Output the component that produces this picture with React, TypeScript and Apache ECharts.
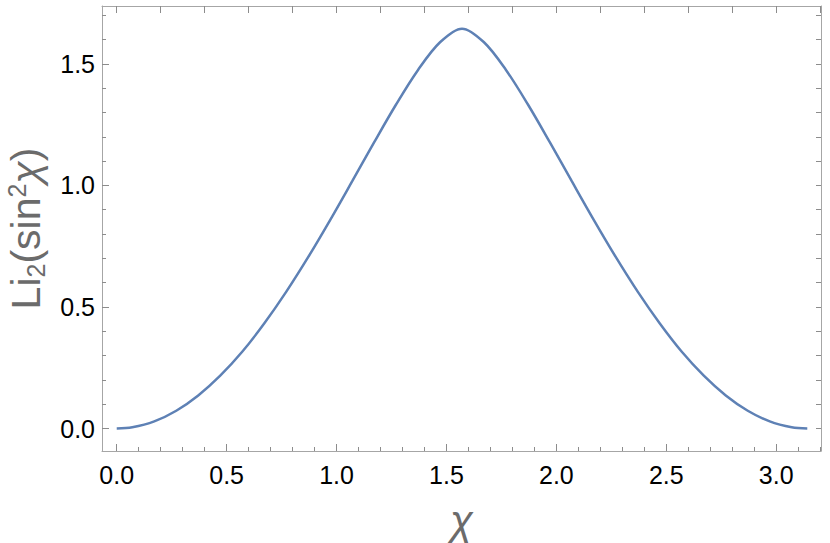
import React, { useEffect, useRef } from "react";
import * as echarts from "echarts";

// chi values (x) and Li2(sin^2 chi) values (y)
const chiValues = [
  0, 0.0708, 0.1708, 0.2708, 0.3708, 0.4708, 0.5708, 0.6708, 0.7708, 0.8708,
  0.9708, 1.0708, 1.1708, 1.2708, 1.3708, 1.4708, 1.5708, 1.6708, 1.7708,
  1.8708, 1.9708, 2.0708, 2.1708, 2.2708, 2.3708, 2.4708, 2.5708, 2.6708,
  2.7708, 2.8708, 2.9708, 3.0708, 3.1416,
];
const liValues = [
  0, 0.005, 0.0291, 0.0729, 0.1359, 0.2174, 0.3156, 0.432, 0.5621, 0.7048,
  0.8574, 1.0163, 1.1769, 1.3328, 1.4749, 1.5888, 1.6449, 1.5888, 1.4749,
  1.3328, 1.1769, 1.0163, 0.8574, 0.7048, 0.5621, 0.432, 0.3156, 0.2174,
  0.1359, 0.0729, 0.0291, 0.005, 0,
];

// tick positions
const xMajorTicks = [0, 0.5, 1.0, 1.5, 2.0, 2.5, 3.0];
const xMinorTicks = [
  0.1, 0.2, 0.3, 0.4, 0.6, 0.7, 0.8, 0.9, 1.1, 1.2, 1.3, 1.4, 1.6, 1.7, 1.8,
  1.9, 2.1, 2.2, 2.3, 2.4, 2.6, 2.7, 2.8, 2.9, 3.1, 3.2,
];
const xTopTicks = [
  0, 0.2, 0.4, 0.6, 0.8, 1.0, 1.2, 1.4, 1.6, 1.8, 2.0, 2.2, 2.4, 2.6, 2.8, 3.0,
  3.2,
];
const yMajorTicks = [0, 0.5, 1.0, 1.5];
const yMinorTicks = [
  0.1, 0.2, 0.3, 0.4, 0.6, 0.7, 0.8, 0.9, 1.1, 1.2, 1.3, 1.4, 1.6, 1.7,
];
const yRightTicks = [
  0, 0.1, 0.2, 0.3, 0.4, 0.5, 0.6, 0.7, 0.8, 0.9, 1.0, 1.1, 1.2, 1.3, 1.4, 1.5,
  1.6, 1.7,
];

const xMin = -0.067;
const xMax = 3.204;
const yMin = -0.0925;
const yMax = 1.738;

const FONT = "'Liberation Sans', Arial, sans-serif";
const FRAME = "#a6a6a6";
const TICK = "#8c8c8c";
const LABEL_GRAY = "#6b6b6b";

export default function App() {
  const ref = useRef<HTMLDivElement>(null);

  useEffect(() => {
    if (!ref.current) return;
    const chart = echarts.init(ref.current, null, { renderer: "svg" });
    const frameLine = { show: true, onZero: false, lineStyle: { color: FRAME, width: 1 } };
    const noLine = { show: false, onZero: false };
    const base = { type: "value" as const, splitLine: { show: false } };

    const option: any = {
      animation: false,
      backgroundColor: "#ffffff",
      grid: {
        left: 102,
        right: 9,
        top: 6,
        bottom: 92,
        containLabel: false,
        outerBoundsMode: "none",
      },
      xAxis: [
        {
          ...base,
          position: "bottom",
          min: xMin,
          max: xMax,
          axisLine: frameLine,
          axisTick: {
            show: true,
            inside: true,
            length: 7,
            customValues: xMajorTicks,
            lineStyle: { color: TICK, width: 1 },
          },
          axisLabel: {
            show: true,
            customValues: xMajorTicks,
            margin: 11,
            fontSize: 25,
            fontFamily: FONT,
            color: "#000",
            formatter: (v: number) => v.toFixed(1),
          },
          name: "χ",
          nameLocation: "middle",
          nameGap: 48,
          nameTextStyle: {
            fontSize: 42,
            lineHeight: 42,
            fontStyle: "italic",
            fontFamily: FONT,
            color: LABEL_GRAY,
          },
        },
        {
          ...base,
          position: "bottom",
          min: xMin,
          max: xMax,
          axisLine: noLine,
          axisTick: {
            show: true,
            inside: true,
            length: 4,
            customValues: xMinorTicks,
            lineStyle: { color: TICK, width: 1 },
          },
          axisLabel: { show: false },
        },
        {
          ...base,
          position: "top",
          min: xMin,
          max: xMax,
          axisLine: frameLine,
          axisTick: {
            show: true,
            inside: true,
            length: 7,
            customValues: xTopTicks,
            lineStyle: { color: TICK, width: 1 },
          },
          axisLabel: { show: false },
        },
      ],
      yAxis: [
        {
          ...base,
          position: "left",
          min: yMin,
          max: yMax,
          axisLine: frameLine,
          axisTick: {
            show: true,
            inside: true,
            length: 7,
            customValues: yMajorTicks,
            lineStyle: { color: TICK, width: 1 },
          },
          axisLabel: {
            show: true,
            customValues: yMajorTicks,
            margin: 7,
            fontSize: 25,
            fontFamily: FONT,
            color: "#000",
            formatter: (v: number) => v.toFixed(1),
          },
          name: "{m|Li}{sub|2}{m|(sin}{sup|2}{it|χ}{m|)}",
          nameLocation: "middle",
          nameGap: 54,
          nameTextStyle: {
            fontSize: 41,
            fontFamily: FONT,
            color: LABEL_GRAY,
            rich: {
              m: { fontSize: 41, lineHeight: 44, fontFamily: FONT, color: LABEL_GRAY },
              it: {
                fontSize: 41,
                lineHeight: 44,
                fontStyle: "italic",
                fontFamily: FONT,
                color: LABEL_GRAY,
              },
              sub: {
                fontSize: 25,
                lineHeight: 30,
                verticalAlign: "bottom",
                fontFamily: FONT,
                color: LABEL_GRAY,
              },
              sup: {
                fontSize: 25,
                lineHeight: 21,
                verticalAlign: "top",
                fontFamily: FONT,
                color: LABEL_GRAY,
              },
            },
          },
        },
        {
          ...base,
          position: "left",
          min: yMin,
          max: yMax,
          axisLine: noLine,
          axisTick: {
            show: true,
            inside: true,
            length: 4,
            customValues: yMinorTicks,
            lineStyle: { color: TICK, width: 1 },
          },
          axisLabel: { show: false },
        },
        {
          ...base,
          position: "right",
          min: yMin,
          max: yMax,
          axisLine: frameLine,
          axisTick: {
            show: true,
            inside: true,
            length: 5,
            customValues: yRightTicks,
            lineStyle: { color: TICK, width: 1 },
          },
          axisLabel: { show: false },
        },
      ],
      series: [
        {
          type: "line",
          xAxisIndex: 0,
          yAxisIndex: 0,
          data: chiValues.map((x, i) => [x, liValues[i]]),
          showSymbol: false,
          smooth: 0.33,
          lineStyle: { color: "#5e81b5", width: 2.5 },
        },
      ],
    };

    chart.setOption(option);
    return () => chart.dispose();
  }, []);

  return (
    <div
      ref={ref}
      style={{ position: "fixed", left: 0, top: 0, width: 830, height: 543, background: "#fff" }}
    />
  );
}
